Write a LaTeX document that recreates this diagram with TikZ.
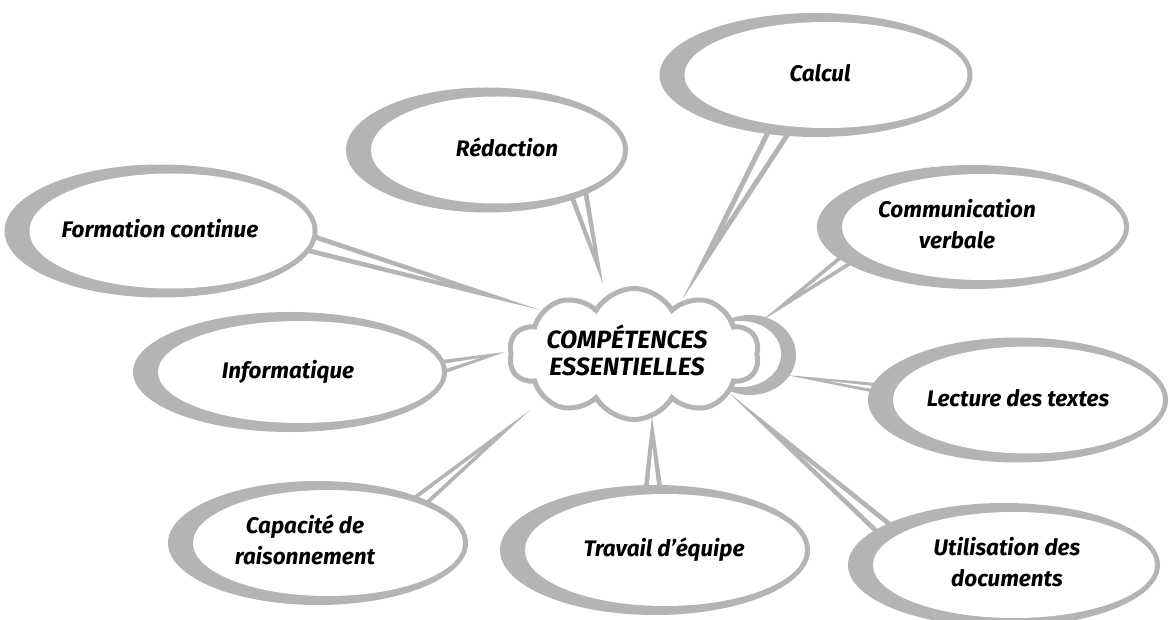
\documentclass[tikz,border=0pt]{standalone}
\usepackage{fontspec}
\setmainfont{Fira Sans}
\usetikzlibrary{shapes.geometric,shapes.symbols,calc}
\definecolor{bgray}{RGB}{180,180,180}
\pgfdeclarelayer{bg}\pgfdeclarelayer{mid}
\pgfsetlayers{bg,mid,main}
\newcommand{\shiftedtext}[2]{\hspace*{#1}\begin{tabular}{@{}c@{}}#2\end{tabular}}
\newcommand{\bubble}[6]{%
  \node[bubble, minimum width=#4pt-30pt, minimum height=#5pt-18pt] (#1) at (#2+10,#3) {#6};
  \begin{pgfonlayer}{mid}\fill[bgray] (#2,#3) ellipse [x radius=#4/2, y radius=#5/2];\end{pgfonlayer}}
\newcommand{\spoke}[5]{%
  \begin{pgfonlayer}{bg}
  \fill[bgray] ($(#1)!#3pt!90:(#2)$) -- (#2) -- ($(#1)!#3pt!-90:(#2)$) -- cycle;
  \fill[white] ($(#1)!#4pt!90:(#2)$) -- ($(#1)!#5!(#2)$) -- ($(#1)!#4pt!-90:(#2)$) -- cycle;
  \end{pgfonlayer}}
\tikzset{
  bubble/.style={ellipse, fill=white, inner sep=0pt,
    font=\fontsize{22.5}{31}\selectfont\bfseries\itshape},
  core/.style={cloud, cloud puffs=10, cloud puff arc=120, aspect=2.1,
    draw=bgray, line width=5pt, fill=white, inner sep=0pt,
    minimum width=250pt, minimum height=115pt,
    font=\fontsize{25}{27}\selectfont\bfseries\itshape}
}
\begin{document}
\begin{tikzpicture}[x=1pt,y=-1pt]
\useasboundingbox (0,0) rectangle (1170,620);
% bubbles
\bubble{form}{161}{231}{313}{133}{\shiftedtext{-22pt}{Formation continue}}
\bubble{red}{487}{150}{282}{125}{\shiftedtext{20pt}{Rédaction}}
\bubble{calc}{816}{75}{313}{124}{\shiftedtext{-12pt}{Calcul}}
\bubble{comm}{973}{227}{312}{124}{\shiftedtext{-52pt}{Communication\\verbale}}
\bubble{info}{290}{372}{314}{120}{\shiftedtext{-24pt}{Informatique}}
\bubble{lect}{1018}{400}{300}{125}{\shiftedtext{-20pt}{Lecture des textes}}
\bubble{capa}{318}{543}{300}{124}{\shiftedtext{-46pt}{Capacité de\\raisonnement}}
\bubble{trav}{655}{550}{310}{130}{\shiftedtext{-2pt}{Travail d’équipe}}
\bubble{util}{1004}{565}{312}{124}{\shiftedtext{-14pt}{Utilisation des\\documents}}
% central cloud
\begin{pgfonlayer}{mid}
\fill[bgray] (750,355) ellipse [x radius=46, y radius=40];
\fill[white] (741,354) ellipse [x radius=40, y radius=33];
\end{pgfonlayer}
\node[core] (core) at (634,354) {\shiftedtext{-14pt}{COMPÉTENCES\\ESSENTIELLES}};
% tips
\coordinate (t-form) at (540,310);
\coordinate (t-red) at (603,284);
\coordinate (t-calc) at (682,300);
\coordinate (t-comm) at (760,322);
\coordinate (t-info) at (505,352);
\coordinate (t-lect) at (786,375);
\coordinate (t-capa) at (530,410);
\coordinate (t-trav) at (652,416);
\coordinate (t-util) at (728,392);
% spokes
\spoke{form.-5}{t-form}{10}{5}{0.57}
\spoke{red.-27}{t-red}{10}{5}{0.6}
\spoke{calc.-131}{t-calc}{12}{7}{0.57}
\spoke{comm.-169}{t-comm}{8}{4}{0.55}
\spoke{info.2}{t-info}{7}{3}{0.6}
\spoke{lect.176}{t-lect}{6}{2.5}{0.6}
\spoke{capa.24}{t-capa}{8}{4}{0.55}
\spoke{trav.102}{t-trav}{10}{5}{0.6}
\spoke{util.167}{t-util}{10}{5}{0.55}
\end{tikzpicture}
\end{document}
